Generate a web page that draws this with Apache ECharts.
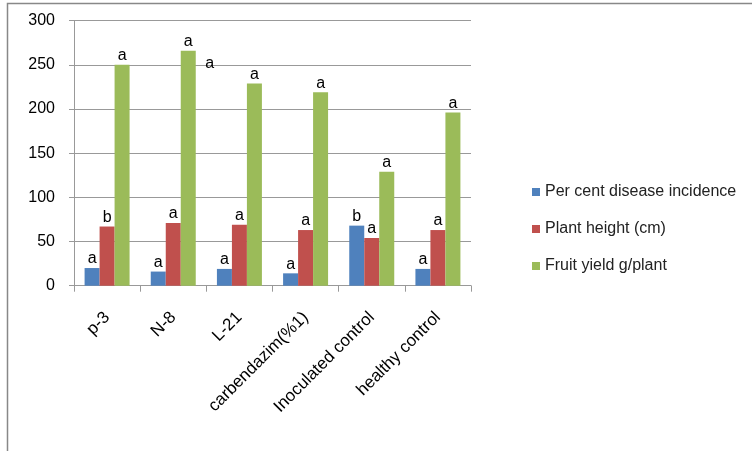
<!DOCTYPE html>
<html><head><meta charset="utf-8">
<script src="https://cdn.jsdelivr.net/npm/echarts@6/dist/echarts.min.js"></script>
<style>html,body{margin:0;padding:0;background:#fff}#c{width:752px;height:451px}</style>
</head><body><div id="c"></div>
<script>
const categories = ['p-3','N-8','L-21','carbendazim(%1)','Inoculated control','healthy control'];
const diseaseIncidence = [20, 16, 19, 14, 68, 19];
const plantHeight = [67, 71, 69, 63, 54, 63];
const fruitYield = [250, 266, 229, 219, 129, 196];
const diseaseLetters = ['a','a','a','a','b','a'];
const heightLetters = ['b','a','a','a','a','a'];
const yieldLetters = ['a','a','a','a','a','a'];
const yTicks = [0, 50, 100, 150, 200, 250, 300];
const seriesNames = ['Per cent disease incidence','Plant height (cm)','Fruit yield g/plant'];
const colors = ['#4F81BD','#C0504D','#9BBB59'];
const FONT = 'Liberation Sans';

const chart = echarts.init(document.getElementById('c'), null, {renderer:'canvas'});
function mk(name, data, letters, color){
  return {
    name, type:'bar', data, barGap:'0%', barCategoryGap:'32%',
    itemStyle:{color},
    label:{show:true, position:'top', distance:1, color:'#000', fontSize:16, fontFamily:FONT,
      formatter:p=>letters[p.dataIndex]}
  };
}
chart.setOption({
  animation:false,
  color:colors,
  grid:{left:74, right:281, top:20.7, bottom:165.3, containLabel:false},
  legend:{orient:'vertical', left:527, top:179, itemWidth:8, itemHeight:8, itemGap:21,
    icon:'rect', data:seriesNames,
    textStyle:{fontSize:16, fontFamily:FONT, color:'#222'}},
  xAxis:{type:'category', data:categories,
    axisLine:{lineStyle:{color:'#999'}},
    axisTick:{show:true, length:6, alignWithLabel:false, lineStyle:{color:'#999'}},
    axisLabel:{rotate:45, interval:0, margin:29, fontSize:17, fontFamily:FONT, color:'#000'}},
  yAxis:{type:'value', min:yTicks[0], max:yTicks[yTicks.length-1], interval:50,
    axisLine:{show:true, lineStyle:{color:'#999'}},
    axisTick:{show:true, length:5, lineStyle:{color:'#999'}},
    splitLine:{lineStyle:{color:'#999'}},
    axisLabel:{margin:19, fontSize:16, fontFamily:FONT, color:'#000'}},
  series:[
    mk(seriesNames[0], diseaseIncidence, diseaseLetters, colors[0]),
    mk(seriesNames[1], plantHeight, heightLetters, colors[1]),
    mk(seriesNames[2], fruitYield, yieldLetters, colors[2])
  ]
});
// stray letter between N-8 and L-21 in the original figure
const stray = chart.convertToPixel({gridIndex:0}, [1, 252]);
const catW = (752-281-74)/categories.length;
chart.setOption({graphic:[
  {type:'rect', shape:{x:7.5, y:3.5, width:750, height:460}, style:{fill:null, stroke:'#888', lineWidth:1.5}, silent:true},
  {type:'text', x:stray[0]+catW*0.55, y:stray[1], style:{text:'a', fontSize:16, fontFamily:FONT, fill:'#000', align:'center', verticalAlign:'middle'}}
]});
</script></body></html>
